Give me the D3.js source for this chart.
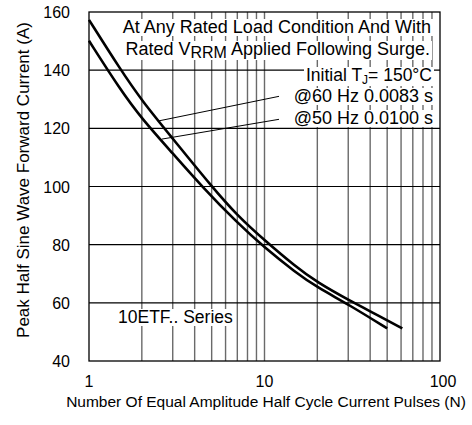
<!DOCTYPE html>
<html>
<head>
<meta charset="utf-8">
<script src="https://cdn.jsdelivr.net/npm/d3@7"></script>
<style>
  body { margin: 0; background: #fff; }
  svg { display: block; font-family: Arial, "Liberation Sans", sans-serif; }
</style>
</head>
<body>
<div id="chart"></div>
<script>
// surge current curves (N pulses, amps)
const upperN = [1, 1.5, 2, 3, 5, 7, 10, 15, 20, 30, 45, 61];
const upperA = [157.3, 140.5, 129.5, 116.5, 100, 90, 81.5, 72.5, 67, 61, 55.5, 51.2];
const lowerN = [1, 1.5, 2, 3, 4.4, 7, 10, 15, 20, 30, 50];
const lowerA = [150.1, 133.5, 123.3, 111.4, 100, 87.5, 79, 70.5, 65.3, 59.5, 51.2];

const yTicks = [40, 60, 80, 100, 120, 140, 160];
const xLabels = [1, 10, 100];
const xGrid = [2, 3, 4, 5, 6, 7, 8, 9, 10, 20, 30, 40, 50, 60, 70, 80, 90];

// leader lines from the curves to the labels (N, amps)
const leaderFrom = [[2.47, 122.5], [2.6, 116.3]];
const leaderTo = [[12.1, 131], [12.1, 123.1]];

const W = 472, H = 425;
const margin = { left: 89, right: 32, top: 12, bottom: 64 };

const svg = d3.select("#chart").append("svg")
  .attr("width", W)
  .attr("height", H);

const x = d3.scaleLog()
  .domain([1, 100])
  .range([margin.left, W - margin.right]);

const y = d3.scaleLinear()
  .domain([40, 160])
  .range([H - margin.bottom, margin.top]);

// grid
const grid = svg.append("g");
grid.selectAll("line.v")
  .data(xGrid)
  .join("line")
  .attr("class", "v")
  .attr("x1", d => x(d)).attr("x2", d => x(d))
  .attr("y1", y(40)).attr("y2", y(160))
  .attr("stroke", "#6a6a6a")
  .attr("stroke-width", 1.4);

grid.selectAll("line.h")
  .data(yTicks.slice(1, -1))
  .join("line")
  .attr("class", "h")
  .attr("x1", x(1)).attr("x2", x(100))
  .attr("y1", d => y(d)).attr("y2", d => y(d))
  .attr("stroke", "#000")
  .attr("stroke-width", 1.2);

// annotation text with white boxes behind it
const notes = svg.append("g");

function note(xPos, yPos, anchor, size, build) {
  const g = notes.append("g");
  const t = g.append("text")
    .attr("x", xPos)
    .attr("y", yPos)
    .attr("text-anchor", anchor)
    .attr("font-size", size)
    .attr("fill", "#000");
  build(t);
  const b = t.node().getBBox();
  g.insert("rect", "text")
    .attr("x", b.x - 2)
    .attr("y", b.y + 2)
    .attr("width", b.width + 4)
    .attr("height", b.height - 3)
    .attr("fill", "#fff");
}

note(431, 33, "end", 18, t => t.text("At Any Rated Load Condition And With"));
note(430, 55, "end", 18, t => {
  t.append("tspan").text("Rated V");
  t.append("tspan").attr("dy", 3).attr("font-size", 16).text("RRM");
  t.append("tspan").attr("dy", -3).text("  Applied Following Surge.");
});
note(432, 81, "end", 17.5, t => {
  t.append("tspan").text("Initial T");
  t.append("tspan").attr("dy", 3).attr("font-size", 12).text("J");
  t.append("tspan").attr("dy", -3).text("= 150°C");
});
note(433, 102, "end", 18, t => t.text("@60 Hz 0.0083 s"));
note(433, 124, "end", 18, t => t.text("@50 Hz 0.0100 s"));
note(118, 323, "start", 17.5, t => t.text("10ETF.. Series"));

// leader lines
svg.append("g").selectAll("line")
  .data(leaderFrom)
  .join("line")
  .attr("x1", d => x(d[0])).attr("y1", d => y(d[1]))
  .attr("x2", (d, i) => x(leaderTo[i][0])).attr("y2", (d, i) => y(leaderTo[i][1]))
  .attr("stroke", "#000")
  .attr("stroke-width", 1);

// border
svg.append("rect")
  .attr("x", x(1)).attr("y", y(160))
  .attr("width", x(100) - x(1))
  .attr("height", y(40) - y(160))
  .attr("fill", "none")
  .attr("stroke", "#000")
  .attr("stroke-width", 1.3);

// curves
const line = d3.line()
  .x(d => x(d[0]))
  .y(d => y(d[1]))
  .curve(d3.curveBasis);

[[upperN, upperA], [lowerN, lowerA]].forEach(([ns, as]) => {
  svg.append("path")
    .attr("d", line(ns.map((n, i) => [n, as[i]])))
    .attr("fill", "none")
    .attr("stroke", "#000")
    .attr("stroke-width", 2.6);
});

// axis labels
svg.append("g").selectAll("text")
  .data(yTicks)
  .join("text")
  .attr("x", 70)
  .attr("y", d => y(d) + 6)
  .attr("text-anchor", "end")
  .attr("font-size", 16)
  .text(d => d);

svg.append("g").selectAll("text")
  .data(xLabels)
  .join("text")
  .attr("x", d => x(d) + (d === 100 ? 3 : 0))
  .attr("y", 387)
  .attr("text-anchor", "middle")
  .attr("font-size", 16)
  .text(d => d);

svg.append("text")
  .attr("x", 266)
  .attr("y", 407)
  .attr("text-anchor", "middle")
  .attr("font-size", 15.5)
  .text("Number Of Equal Amplitude Half Cycle Current Pulses (N)");

svg.append("text")
  .attr("transform", "translate(29,180) rotate(-90)")
  .attr("text-anchor", "middle")
  .attr("font-size", 17)
  .text("Peak Half Sine Wave Forward Current (A)");
</script>
</body>
</html>
